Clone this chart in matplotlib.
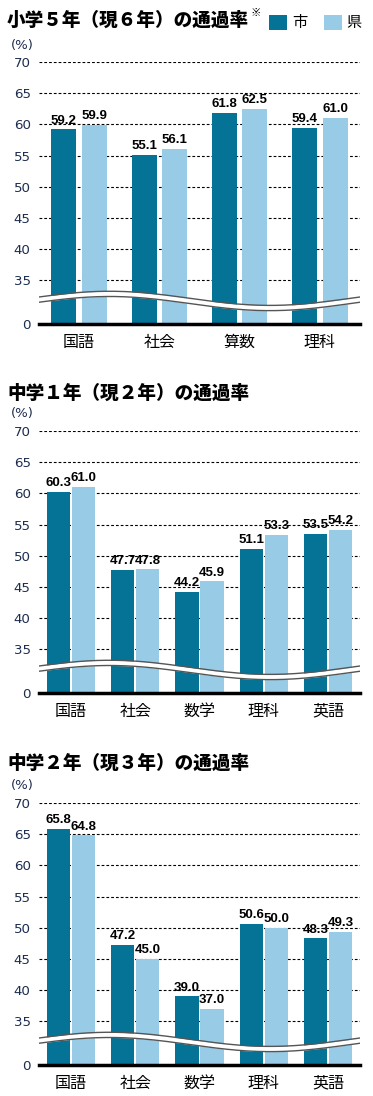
import matplotlib
matplotlib.use('Agg')
import matplotlib.pyplot as plt
import numpy as np

plt.rcParams['font.family'] = ['Noto Sans CJK JP', 'DejaVu Sans']

# data
titles = ['小学５年（現６年）の通過率', '中学１年（現２年）の通過率', '中学２年（現３年）の通過率']
cats1 = ['国語', '社会', '算数', '理科']
cats2 = ['国語', '社会', '数学', '理科', '英語']
cats3 = ['国語', '社会', '数学', '理科', '英語']
city1 = [59.2, 55.1, 61.8, 59.4]
pref1 = [59.9, 56.1, 62.5, 61.0]
city2 = [60.3, 47.7, 44.2, 51.1, 53.5]
pref2 = [61.0, 47.8, 45.9, 53.3, 54.2]
city3 = [65.8, 47.2, 39.0, 50.6, 48.3]
pref3 = [64.8, 45.0, 37.0, 50.0, 49.3]
series_names = ['市', '県']
yticks = [0, 35, 40, 45, 50, 55, 60, 65, 70]

DARK = '#047396'
LIGHT = '#98cbe6'
TICKC = '#1d2d4f'

W, H = 373, 1096


def fwd(v):
    return np.interp(v, [0, 35, 70], [0, 1.4, 8.4])


def inv(v):
    return np.interp(v, [0, 1.4, 8.4], [0, 35, 70])


def draw_panel(fig, top_px, cats, city, pref, title, width, offset, title_y):
    ax = fig.add_axes([39 / W, (H - top_px - 262) / H, 321 / W, 262 / H])
    ax.set_yscale('function', functions=(fwd, inv))
    x = np.arange(len(cats))
    b1 = ax.bar(x - offset, city, width, color=DARK, zorder=2)
    b2 = ax.bar(x + offset, pref, width, color=LIGHT, zorder=2)
    for bars, vals in ((b1, city), (b2, pref)):
        for r, v in zip(bars, vals):
            ax.annotate(f'{v:.1f}', (r.get_x() + r.get_width() / 2, v),
                        xytext=(0, 2), textcoords='offset points',
                        ha='center', va='bottom', fontsize=9.5,
                        fontweight='bold', family='Liberation Sans',
                        zorder=5)
    ax.set_ylim(0, 70)
    ax.set_xlim(-0.5, len(cats) - 0.5)
    ax.set_yticks(yticks)
    ax.set_yticklabels([str(t) for t in yticks], color=TICKC, fontsize=9.6,
                       family='DejaVu Sans')
    ax.tick_params(axis='y', length=0, pad=6)
    ax.tick_params(axis='x', length=0, pad=7)
    ax.set_xticks(x)
    ax.set_xticklabels(cats, fontsize=11.5)
    for t in yticks[1:]:
        ax.axhline(t, color='black', lw=0.8, ls=(0, (2.5, 1.8)), zorder=1)
    for s in ['top', 'right', 'left']:
        ax.spines[s].set_visible(False)
    ax.spines['bottom'].set_linewidth(2.5)
    ax.spines['bottom'].set_zorder(6)

    # axis break wave
    f = np.linspace(0, 1, 300)
    c = 0.088 + 0.027 * np.cos(2 * np.pi * (f - 0.22))
    ax.fill_between(f, c - 0.010, c + 0.010, color='white', transform=ax.transAxes,
                    zorder=4, lw=0)
    ax.plot(f, c + 0.010, color='#555555', lw=1.0, transform=ax.transAxes, zorder=4)
    ax.plot(f, c - 0.010, color='#555555', lw=1.0, transform=ax.transAxes, zorder=4)

    fig.text(7 / W, 1 - title_y / H, title, fontsize=13.4, fontweight='black',
             va='center', ha='left')
    fig.text(11 / W, 1 - (top_px - 17) / H, '(%)', fontsize=9.5, color=TICKC,
             va='center', ha='left', family='DejaVu Sans')
    return ax, b1, b2


fig = plt.figure(figsize=(W / 100, H / 100), dpi=100)

ax1, h1, h2 = draw_panel(fig, 62, cats1, city1, pref1, titles[0], 0.31, 0.19, 20)
fig.text(250 / W, 1 - 13 / H, '※', fontsize=7.5, fontweight='bold', va='center')
draw_panel(fig, 431, cats2, city2, pref2, titles[1], 0.36, 0.195, 393)
draw_panel(fig, 803, cats3, city3, pref3, titles[2], 0.36, 0.195, 763)

fig.legend([h1, h2], series_names, loc='center right',
           bbox_to_anchor=(362 / W, 1 - 23 / H), ncol=2, frameon=False,
           fontsize=11, handlelength=1.2, handleheight=1.2, handletextpad=0.3,
           columnspacing=1.1, borderpad=0, borderaxespad=0)

fig.savefig('out.png', dpi=100)
